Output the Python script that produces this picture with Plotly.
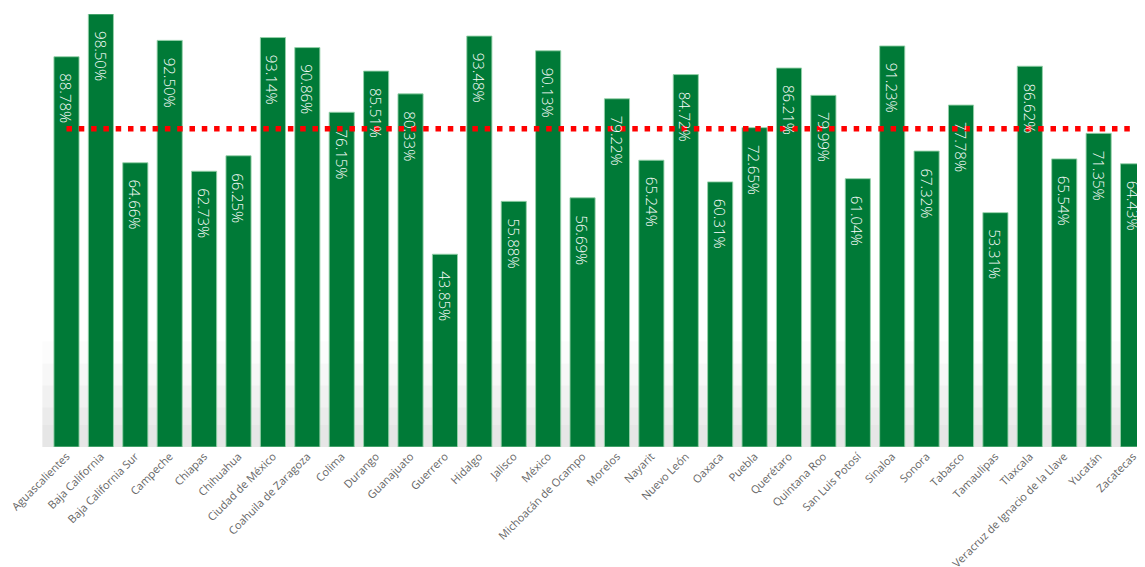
import plotly.graph_objects as go

estados = ["Aguascalientes", "Baja California", "Baja California Sur", "Campeche", "Chiapas",
           "Chihuahua", "Ciudad de México", "Coahuila de Zaragoza", "Colima", "Durango",
           "Guanajuato", "Guerrero", "Hidalgo", "Jalisco", "México", "Michoacán de Ocampo",
           "Morelos", "Nayarit", "Nuevo León", "Oaxaca", "Puebla", "Querétaro", "Quintana Roo",
           "San Luis Potosí", "Sinaloa", "Sonora", "Tabasco", "Tamaulipas", "Tlaxcala",
           "Veracruz de Ignacio de la Llave", "Yucatán", "Zacatecas"]
valores = [88.78, 98.50, 64.66, 92.50, 62.73, 66.25, 93.14, 90.86, 76.15, 85.51,
           80.33, 43.85, 93.48, 55.88, 90.13, 56.69, 79.22, 65.24, 84.72, 60.31,
           72.65, 86.21, 79.99, 61.04, 91.23, 67.32, 77.78, 53.31, 86.62, 65.54,
           71.35, 64.43]
referencia = 72.4

fig = go.Figure()
fig.add_trace(go.Bar(
    x=estados, y=valores,
    marker=dict(color="#007A37", line=dict(color="rgba(150,210,170,0.9)", width=1)),
    hoverinfo="skip",
))
fig.add_trace(go.Scatter(
    x=[estados[0], estados[-1]], y=[referencia, referencia],
    mode="lines",
    line=dict(color="#FF0000", width=5.5, dash="5.5px,6.8px"),
    hoverinfo="skip",
))

annotations = [
    dict(x=e, y=v, xref="x", yref="y", text=f"{v:.2f}%", showarrow=False,
         textangle=90, yanchor="top", xanchor="center", yshift=-15,
         font=dict(family="Open Sans", size=15, color="white", weight=300))
    for e, v in zip(estados, valores)
]

shapes = []
for h, op in [(24, 0.025), (19, 0.035), (14, 0.045), (9, 0.045), (5, 0.035)]:
    shapes.append(dict(type="rect", xref="paper", yref="y", x0=0.03, x1=1, y0=0, y1=h,
                       fillcolor=f"rgba(120,120,120,{op})", line=dict(width=0), layer="below"))
shapes.append(dict(type="rect", xref="paper", yref="y", x0=0.03, x1=1, y0=-0.8, y1=0,
                   fillcolor="rgba(205,205,205,0.5)", line=dict(width=0), layer="below"))

fig.update_layout(
    width=1145, height=567,
    margin=dict(l=0, r=0, t=6, b=128),
    plot_bgcolor="white", paper_bgcolor="white",
    showlegend=False, bargap=0.27,
    shapes=shapes, annotations=annotations,
    xaxis=dict(range=[-1.70, 31.58], tickangle=-45, showgrid=False, showline=False,
               ticks="", tickfont=dict(family="Open Sans", size=11, color="#666666")),
    yaxis=dict(range=[0, 98.5], visible=False, showgrid=False, zeroline=False),
)
fig.write_html("out.html")
